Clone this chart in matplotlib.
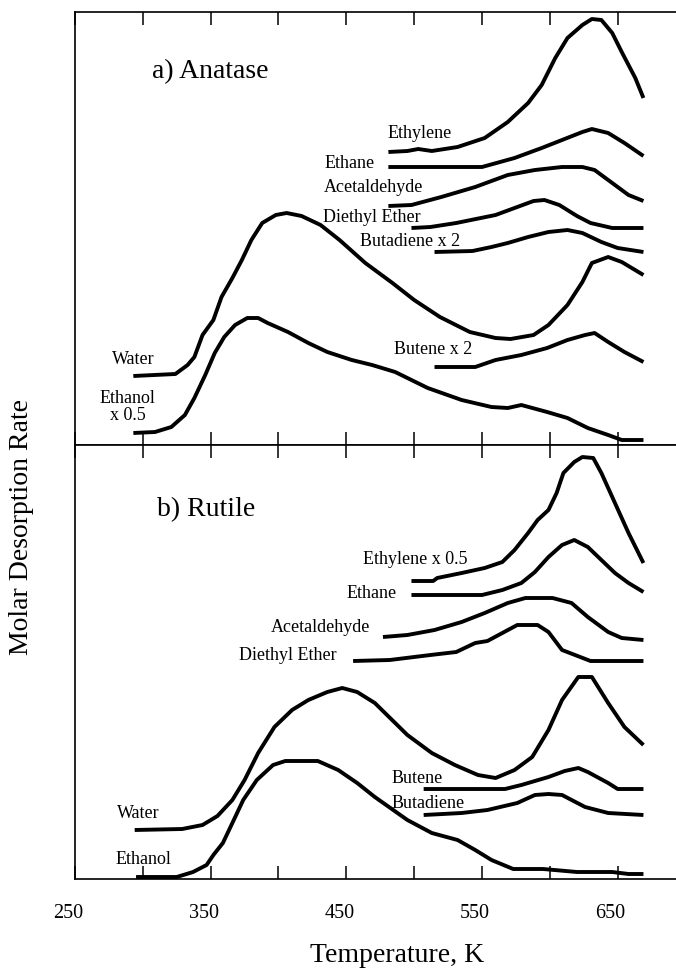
import matplotlib.pyplot as plt
from matplotlib.transforms import ScaledTranslation

plt.rcParams['font.family'] = ['Liberation Serif', 'DejaVu Serif']

# Temperatures (K) and desorption rates (arbitrary units, curves offset for display)
# a) Anatase
a_ethylene_T = [481, 495, 503, 513, 532, 552, 569, 584, 594, 604, 613, 624, 631, 638, 646, 653, 663, 669]
a_ethylene = [293, 294, 296, 294, 298, 307, 323, 342, 360, 387, 407, 420, 426, 425, 412, 393, 367, 347]
a_ethane_T = [481, 550, 574, 594, 609, 624, 631, 643, 655, 669]
a_ethane = [278, 278, 287, 297, 305, 313, 316, 312, 302, 289]
a_acet_T = [481, 498, 520, 545, 569, 589, 609, 624, 633, 648, 658, 669]
a_acet = [239, 240, 248, 258, 270, 275, 278, 278, 275, 260, 250, 244]
a_ether_T = [498, 512, 531, 560, 576, 588, 596, 607, 620, 630, 646, 669]
a_ether = [217, 218, 222, 230, 238, 244, 245, 240, 229, 222, 217, 217]
a_butadiene_T = [515, 543, 557, 569, 584, 599, 613, 624, 638, 650, 669]
a_butadiene = [193, 194, 198, 202, 208, 213, 215, 212, 203, 197, 193]
a_butene_T = [515, 545, 560, 579, 598, 613, 626, 633, 643, 655, 669]
a_butene = [78, 78, 85, 90, 97, 105, 110, 112, 103, 93, 83]
a_water_T = [293, 324, 333, 338, 344, 352, 358, 366, 373, 380, 388, 398, 406, 417, 431, 445,
             464, 484, 500, 519, 541, 560, 571, 588, 599, 613, 624, 631, 643, 653, 669]
a_water = [69, 71, 80, 88, 110, 125, 148, 167, 185, 205, 222, 230, 232, 229, 220, 205,
           182, 162, 145, 128, 113, 107, 106, 110, 120, 140, 163, 182, 188, 183, 170]
a_ethanol_T = [293, 309, 321, 331, 338, 346, 353, 360, 368, 377, 385, 392, 407, 422, 436,
               454, 469, 486, 510, 535, 557, 569, 579, 598, 613, 628, 643, 653, 669]
a_ethanol = [12, 13, 18, 30, 47, 70, 92, 108, 120, 127, 127, 122, 113, 102, 93,
             85, 80, 73, 57, 45, 38, 37, 40, 33, 27, 17, 10, 5, 5]

# b) Rutile
b_ethylene_T = [498, 514, 517, 535, 552, 565, 574, 584, 591, 599, 605, 610, 618, 624, 632, 638, 648, 658, 669]
b_ethylene = [298, 298, 301, 306, 311, 317, 329, 346, 359, 369, 386, 406, 417, 422, 421, 406, 376, 346, 316]
b_ethane_T = [498, 550, 565, 579, 589, 599, 609, 618, 628, 638, 648, 658, 669]
b_ethane = [284, 284, 289, 296, 307, 322, 334, 339, 332, 319, 306, 296, 287]
b_acet_T = [477, 495, 515, 535, 552, 569, 582, 602, 616, 628, 643, 653, 669]
b_acet = [242, 244, 249, 257, 266, 276, 281, 281, 276, 262, 247, 241, 239]
b_ether_T = [455, 482, 512, 531, 545, 554, 576, 591, 599, 609, 630, 669]
b_ether = [218, 219, 224, 227, 236, 238, 254, 254, 247, 229, 218, 218]
b_water_T = [294, 329, 344, 355, 366, 375, 385, 397, 410, 422, 436, 447, 458, 471, 495, 513,
             530, 547, 560, 574, 587, 599, 609, 621, 631, 643, 655, 669]
b_water = [49, 50, 54, 63, 79, 99, 126, 152, 169, 179, 187, 191, 187, 176, 144, 126,
           114, 104, 101, 109, 122, 149, 179, 202, 202, 176, 152, 134]
b_ethanol_T = [295, 325, 337, 347, 352, 359, 366, 374, 384, 396, 405, 429, 444, 458, 471, 495,
               513, 532, 545, 557, 573, 595, 620, 646, 658, 669]
b_ethanol = [2, 2, 7, 14, 24, 36, 56, 79, 99, 114, 118, 118, 109, 96, 82, 59,
             46, 39, 29, 19, 10, 10, 7, 7, 5, 5]
b_butene_T = [507, 567, 579, 599, 611, 621, 628, 643, 650, 669]
b_butene = [90, 90, 94, 102, 108, 111, 107, 96, 90, 90]
b_butadiene_T = [507, 535, 554, 576, 589, 599, 609, 626, 643, 669]
b_butadiene = [64, 66, 69, 76, 84, 85, 84, 72, 66, 64]

tick_pos = [250, 300, 350, 400, 450, 500, 550, 600, 650]
tick_labels = ['250', '', '350', '', '450', '', '550', '', '650']

fig = plt.figure(figsize=(6.76, 9.72), dpi=100)
ax_a = fig.add_axes([75 / 676, 1 - 445 / 972, 1 - 75 / 676, 433 / 972])
ax_b = fig.add_axes([75 / 676, 1 - 879 / 972, 1 - 75 / 676, 434 / 972])

line_kw = dict(color='black', lw=2.8, solid_joinstyle='round', solid_capstyle='butt')
lab_kw = dict(fontsize=13, va='center')

# upper panel
for T, r in [(a_ethylene_T, a_ethylene), (a_ethane_T, a_ethane), (a_acet_T, a_acet),
             (a_ether_T, a_ether), (a_butadiene_T, a_butadiene), (a_butene_T, a_butene),
             (a_water_T, a_water), (a_ethanol_T, a_ethanol)]:
    ax_a.plot(T, r, **line_kw)
ax_a.text(480.7, 311, 'Ethylene', ha='left', **lab_kw)
ax_a.text(471, 281, 'Ethane', ha='right', **lab_kw)
ax_a.text(507, 257, 'Acetaldehyde', ha='right', **lab_kw)
ax_a.text(505, 228, 'Diethyl Ether', ha='right', **lab_kw)
ax_a.text(533.7, 203, 'Butadiene x 2', ha='right', **lab_kw)
ax_a.text(542.6, 95, 'Butene x 2', ha='right', **lab_kw)
ax_a.text(309, 85, 'Water', ha='right', **lab_kw)
ax_a.text(289, 38, 'Ethanol\nx 0.5', ha='center', multialignment='center', linespacing=1.05, **lab_kw)
ax_a.text(306.7, 373, 'a) Anatase', ha='left', va='center', fontsize=20)

# lower panel
for T, r in [(b_ethylene_T, b_ethylene), (b_ethane_T, b_ethane), (b_acet_T, b_acet),
             (b_ether_T, b_ether), (b_water_T, b_water), (b_ethanol_T, b_ethanol),
             (b_butene_T, b_butene), (b_butadiene_T, b_butadiene)]:
    ax_b.plot(T, r, **line_kw)
ax_b.text(539.6, 319, 'Ethylene x 0.5', ha='right', **lab_kw)
ax_b.text(487.3, 286, 'Ethane', ha='right', **lab_kw)
ax_b.text(467.4, 251, 'Acetaldehyde', ha='right', **lab_kw)
ax_b.text(443, 224, 'Diethyl Ether', ha='right', **lab_kw)
ax_b.text(312.6, 66, 'Water', ha='right', **lab_kw)
ax_b.text(320.7, 20, 'Ethanol', ha='right', **lab_kw)
ax_b.text(483.6, 101, 'Butene', ha='left', **lab_kw)
ax_b.text(483.6, 76, 'Butadiene', ha='left', **lab_kw)
ax_b.text(310.4, 369, 'b) Rutile', ha='left', va='center', fontsize=20)

ax_a.set_ylim(0, 433)
ax_b.set_ylim(0, 434)
for ax in (ax_a, ax_b):
    ax.set_xlim(250, 693)
    ax.set_yticks([])
    ax.spines['right'].set_visible(False)
    for s in ('left', 'top', 'bottom'):
        ax.spines[s].set_linewidth(1.2)
    ax.set_xticks(tick_pos)
    ax.tick_params(axis='x', direction='in', top=True, bottom=True, length=9.5, width=1.1)

ax_a.set_xticklabels([])
ax_b.set_xticklabels(tick_labels)
ax_b.tick_params(axis='x', labelsize=14.5, pad=18)
shift = ScaledTranslation(-7 / 100, 0, fig.dpi_scale_trans)
for lab in ax_b.get_xticklabels():
    lab.set_transform(lab.get_transform() + shift)

fig.text(22 / 676, 1 - 527 / 972, 'Molar Desorption Rate', rotation=90,
         ha='center', va='center', fontsize=20)
fig.text(397 / 676, 1 - 955 / 972, 'Temperature, K', ha='center', va='center', fontsize=20)

fig.savefig('out.png', dpi=100)
